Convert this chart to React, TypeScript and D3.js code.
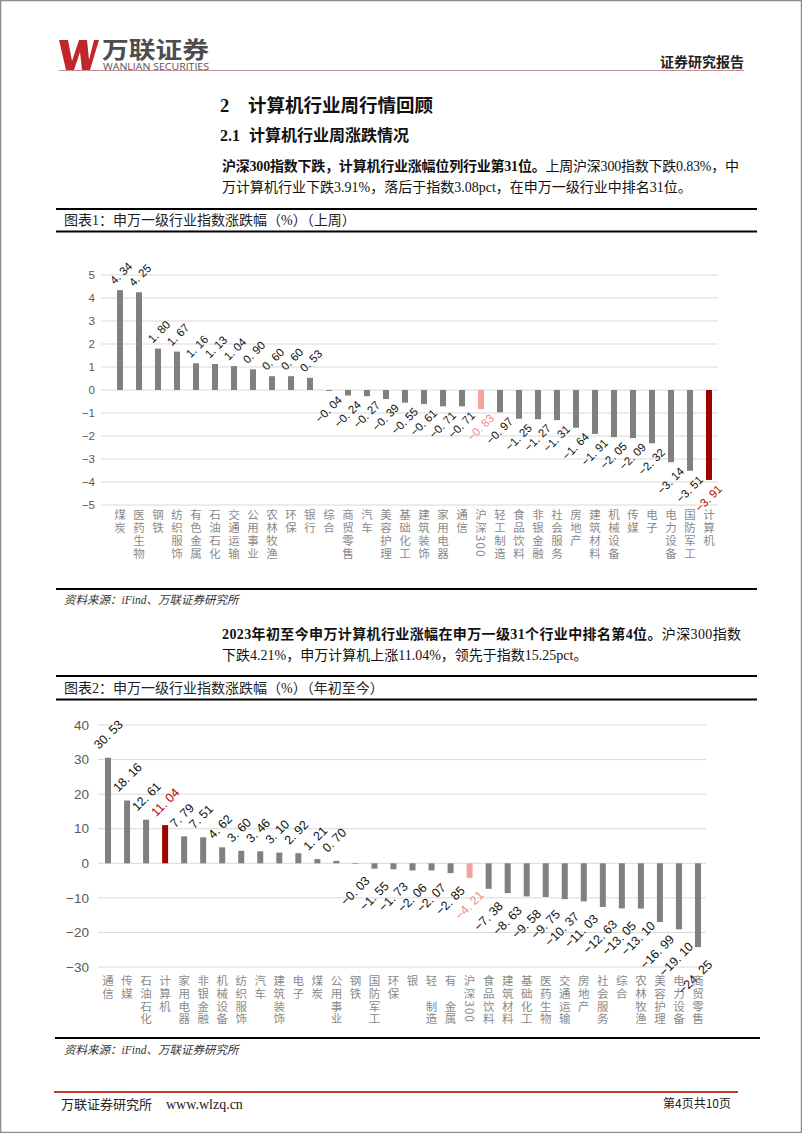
import React from "react";
import * as d3 from "d3";

const PAGE_W = 802;
const PAGE_H = 1133;

// ---------- Data ----------
const weeklyCategories = [
  "煤炭", "医药生物", "钢铁", "纺织服饰", "有色金属", "石油石化", "交通运输", "公用事业",
  "农林牧渔", "环保", "银行", "综合", "商贸零售", "汽车", "美容护理", "基础化工",
  "建筑装饰", "家用电器", "通信", "沪深300", "轻工制造", "食品饮料", "非银金融", "社会服务",
  "房地产", "建筑材料", "机械设备", "传媒", "电子", "电力设备", "国防军工", "计算机",
];
const weeklyValues = [
  4.34, 4.25, 1.8, 1.67, 1.16, 1.13, 1.04, 0.9,
  0.6, 0.6, 0.53, -0.04, -0.24, -0.27, -0.39, -0.55,
  -0.61, -0.71, -0.71, -0.83, -0.97, -1.25, -1.27, -1.31,
  -1.64, -1.91, -2.05, -2.09, -2.32, -3.14, -3.51, -3.91,
];
const weeklyTicks = [5, 4, 3, 2, 1, 0, -1, -2, -3, -4, -5];

const ytdCategories = [
  "通信", "传媒", "石油石化", "计算机", "家用电器", "非银金融", "机械设备", "纺织服饰",
  "汽车", "建筑装饰", "电子", "煤炭", "公用事业", "钢铁", "国防军工", "环保",
  "银行", "轻工制造", "有色金属", "沪深300", "食品饮料", "建筑材料", "基础化工", "医药生物",
  "交通运输", "房地产", "社会服务", "综合", "农林牧渔", "美容护理", "电力设备", "商贸零售",
];
// labels exactly as printed in the reference (some glyphs are missing there)
const ytdCategoryLabels = [
  "通信", "传媒", "石油石化", "计算机", "家用电器", "非银金融", "机械设备", "纺织服饰",
  "汽车", "建筑装饰", "电子", "煤炭", "公用事业", "钢铁", "国防军工", "环保",
  "银", "轻\u3000制造", "有\u3000金属", "沪深300", "食品饮料", "建筑材料", "基础化工", "医药生物",
  "交通运输", "房地产", "社会服务", "综合", "农林牧渔", "美容护理", "电力设备", "商贸零售",
];
const ytdValues = [
  30.53, 18.16, 12.61, 11.04, 7.79, 7.51, 4.62, 3.6,
  3.46, 3.1, 2.92, 1.21, 0.7, -0.03, -1.55, -1.73,
  -2.06, -2.07, -2.85, -4.21, -7.38, -8.63, -9.58, -9.75,
  -10.37, -11.03, -12.63, -13.05, -13.1, -16.99, -19.1, -24.25,
];
const ytdTicks = [40, 30, 20, 10, 0, -10, -20, -30];

const HIGHLIGHT = "计算机";
const INDEX_NAME = "沪深300";

// ---------- Styles ----------
const SERIF = "'Liberation Serif', 'Noto Sans CJK SC', serif";
const SANS = "'Liberation Sans', Arial, 'Noto Sans CJK SC', sans-serif";
const CJK = "'Noto Sans CJK SC', sans-serif";

const BAR_GRAY = "#808080";
const BAR_RED = "#a00000";
const BAR_PINK = "#f4a3a3";
const GRID = "#d9d9d9";

const minus = "\u2212";
function fmtVal(v: number) {
  const s = Math.abs(v).toFixed(2).replace(".", ". ");
  return (v < 0 ? minus : "") + s;
}
function fmtTick(v: number) {
  return (v < 0 ? minus : "") + Math.abs(v);
}

function BarChart(props: any) {
  const {
    cats, labels, values, ticks, domain, yRange, xRange, gridX, tickX, tickFs,
    valFs, pos, neg, catY, catStep, catFs,
  } = props;
  const x = d3.scaleBand<string>().domain(cats).range(xRange).padding(0);
  const y = d3.scaleLinear().domain(domain).range(yRange);
  const bw = 6;
  return (
    <g>
      {ticks.map((t: number) => (
        <g key={t}>
          <line x1={gridX[0]} x2={gridX[1]} y1={y(t)} y2={y(t)} stroke={GRID} strokeWidth={1} />
          <text
            x={tickX}
            y={y(t)}
            dy="0.35em"
            textAnchor="end"
            fontSize={tickFs}
            fontFamily={SANS}
            fill="#595959"
          >
            {fmtTick(t)}
          </text>
        </g>
      ))}
      {cats.map((c: string, i: number) => {
        const v = values[i];
        const cx = (x(c) as number) + x.bandwidth() / 2;
        const y0 = y(0);
        const yv = y(v);
        const fill = c === HIGHLIGHT ? BAR_RED : c === INDEX_NAME ? BAR_PINK : BAR_GRAY;
        const lblColor = c === HIGHLIGHT ? "#c00000" : c === INDEX_NAME ? "#f08c8c" : "#111";
        const top = Math.min(y0, yv);
        const h = Math.abs(yv - y0);
        const p = v >= 0 ? pos : neg;
        return (
          <g key={c}>
            <rect x={cx - bw / 2} y={top} width={bw} height={Math.max(h, 0.6)} fill={fill} />
            <text
              transform={`translate(${cx + p[0]},${yv + p[1]}) rotate(-45)`}
              textAnchor={v >= 0 ? "start" : "end"}
              dy="0.35em"
              fontSize={valFs}
              fontFamily={SANS}
              fill={lblColor}
            >
              {fmtVal(v)}
            </text>
            <text
              x={cx}
              y={catY - catFs / 2}
              style={{ writingMode: "vertical-rl" } as any}
              fontSize={catFs}
              letterSpacing={catStep - catFs}
              fontFamily={CJK}
              fill="#8a8a8a"
            >
              {labels[i]}
            </text>
          </g>
        );
      })}
    </g>
  );
}

export default function App() {
  return (
    <svg
      width={PAGE_W}
      height={PAGE_H}
      viewBox={`0 0 ${PAGE_W} ${PAGE_H}`}
      style={{ position: "absolute", left: 0, top: 0, background: "#fff" }}
    >
      <rect x={0} y={0} width={PAGE_W} height={PAGE_H} fill="#fff" />
      <rect x={0.5} y={0.5} width={PAGE_W - 1} height={PAGE_H - 1} fill="none" stroke="#8c8c8c" strokeWidth={1.5} />

      {/* Header */}
      <path
        d="M59 40 L68 40 L72 61 L79 40 L87 40 L89 60 L94 40 L99 40 L90 70 L82 70 L80 52 L74 70 L66 70 Z"
        fill="#c0272d"
      />
      <text x={102} y={58} fontSize={23} fontWeight={700} fontFamily={CJK} fill="#4d4d4d" textLength={107} lengthAdjust="spacingAndGlyphs">
        万联证券
      </text>
      <text x={103} y={70} fontSize={9.5} fontFamily="'Open Sans', 'Noto Sans', sans-serif" fill="#555" textLength={106} lengthAdjust="spacingAndGlyphs">
        WANLIAN SECURITIES
      </text>
      <line x1={59} x2={744} y1={70.5} y2={70.5} stroke="#c98d92" strokeWidth={1} />
      <text x={744} y={67.3} textAnchor="end" fontSize={14} fontWeight={700} fontFamily={CJK} fill="#222">
        证券研究报告
      </text>

      {/* Headings */}
      <text x={220} y={112} fontSize={18.5} fontWeight={700} fontFamily={SERIF} fill="#111">2</text>
      <text x={248} y={112} fontSize={18.5} fontWeight={700} fontFamily={CJK} fill="#111">计算机行业周行情回顾</text>
      <text x={220} y={141} fontSize={16} fontWeight={700} fontFamily={SERIF} fill="#111">2.1</text>
      <text x={249} y={141} fontSize={16} fontWeight={700} fontFamily={CJK} fill="#111">计算机行业周涨跌情况</text>

      {/* Paragraph 1 */}
      <text x={222} y={171.3} fontSize={14} fontFamily={SERIF} fill="#111" textLength={517} lengthAdjust="spacing">
        <tspan fontWeight={700}>沪深300指数下跌，计算机行业涨幅位列行业第31位。</tspan>
        <tspan>上周沪深300指数下跌0.83%，中</tspan>
      </text>
      <text x={222} y={192.3} fontSize={14} fontFamily={SERIF} fill="#111">
        万计算机行业下跌3.91%，落后于指数3.08pct，在申万一级行业中排名31位。
      </text>

      {/* Chart 1 frame */}
      <line x1={56} x2={757} y1={209} y2={209} stroke="#000" strokeWidth={2} />
      <text x={64} y={225.3} fontSize={14} fontFamily={SERIF} fill="#222">图表1：申万一级行业指数涨跌幅（%）（上周）</text>
      <line x1={56} x2={757} y1={231.5} y2={231.5} stroke="#000" strokeWidth={2} />

      <BarChart
        cats={weeklyCategories}
        labels={weeklyCategories}
        values={weeklyValues}
        ticks={weeklyTicks}
        domain={[-5, 5]}
        yRange={[505, 275]}
        xRange={[110.5, 718.5]}
        gridX={[101, 718]}
        tickX={95}
        tickFs={11.5}
        valFs={11.5}
        pos={[-8, -8]}
        neg={[11, 7]}
        catY={515}
        catStep={12.8}
        catFs={11.5}
      />

      <line x1={56} x2={757} y1={589} y2={589} stroke="#000" strokeWidth={2} />
      <text x={64} y={604.4} fontSize={11.5} fontStyle="italic" fontFamily={SERIF} fill="#333">资料来源：iFind、万联证券研究所</text>

      {/* Paragraph 2 */}
      <text x={222} y={639.3} fontSize={14} fontFamily={SERIF} fill="#111" textLength={519} lengthAdjust="spacing">
        <tspan fontWeight={700}>2023年初至今申万计算机行业涨幅在申万一级31个行业中排名第4位。</tspan>
        <tspan>沪深300指数</tspan>
      </text>
      <text x={222} y={660.3} fontSize={14} fontFamily={SERIF} fill="#111">
        下跌4.21%，申万计算机上涨11.04%，领先于指数15.25pct。
      </text>

      {/* Chart 2 frame */}
      <line x1={56} x2={757} y1={676} y2={676} stroke="#000" strokeWidth={2} />
      <text x={64} y={693.3} fontSize={14} fontFamily={SERIF} fill="#222">图表2：申万一级行业指数涨跌幅（%）（年初至今）</text>
      <line x1={56} x2={757} y1={699.5} y2={699.5} stroke="#000" strokeWidth={2} />

      <BarChart
        cats={ytdCategories}
        labels={ytdCategoryLabels}
        values={ytdValues}
        ticks={ytdTicks}
        domain={[-30, 40]}
        yRange={[967, 725]}
        xRange={[98.5, 707.5]}
        gridX={[98, 706]}
        tickX={89}
        tickFs={13.5}
        valFs={12.5}
        pos={[-12, -11]}
        neg={[12, 15]}
        catY={981}
        catStep={12.6}
        catFs={11.5}
      />

      <line x1={55} x2={760} y1={1038} y2={1038} stroke="#000" strokeWidth={2} />
      <text x={64} y={1054} fontSize={11.5} fontStyle="italic" fontFamily={SERIF} fill="#333">资料来源：iFind、万联证券研究所</text>

      {/* Footer */}
      <line x1={54} x2={738} y1={1092} y2={1092} stroke="#c0392b" strokeWidth={2} />
      <text x={61} y={1109} fontSize={13} fontFamily={CJK} fill="#222">万联证券研究所</text>
      <text x={166} y={1109} fontSize={14} fontFamily={SERIF} fill="#222">www.wlzq.cn</text>
      <text x={731} y={1108} textAnchor="end" fontSize={12} fontFamily={CJK} fill="#222">第4页共10页</text>
    </svg>
  );
}
